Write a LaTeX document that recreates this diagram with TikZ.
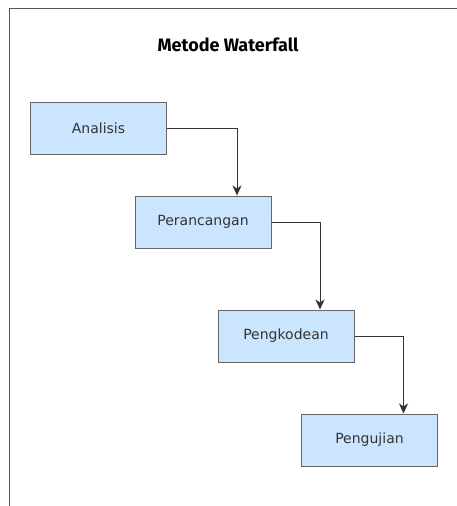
\documentclass[tikz,border=0pt]{standalone}
\usepackage{fontspec}
\setmainfont{DejaVu Sans}
\newfontfamily\titlefont{Fira Sans}
\usetikzlibrary{arrows.meta}
\definecolor{boxfill}{HTML}{CCE5FF}
\definecolor{boxline}{HTML}{666666}
\definecolor{boxtext}{HTML}{333333}
\definecolor{frameline}{HTML}{555555}
\begin{document}
\begin{tikzpicture}[x=1pt,y=-1pt,
  stepbox/.style={draw=boxline,fill=boxfill,line width=1pt,minimum width=136pt,minimum height=52pt,
    inner sep=0pt,text=boxtext,font=\fontsize{14}{16}\selectfont},
  link/.style={draw=black!80,line width=1pt,-{Stealth[length=10pt,width=9pt,inset=3pt]}}]
\useasboundingbox (0,0) rectangle (457,506);
\draw[frameline,line width=1.6pt] (9.5,520) -- (9.5,8.5) -- (470,8.5);
\node[font=\titlefont\bfseries\fontsize{18}{20}\selectfont] (title) at (228,45) {Metode Waterfall};
\node[stepbox] (a) at (98.5,128) {Analisis};
\node[stepbox] (b) at (203,222) {Perancangan};
\node[stepbox] (c) at (286,336) {Pengkodean};
\node[stepbox] (d) at (369.5,440) {Pengujian};
\draw[link] (a.east) -| ([xshift=34pt]b.north);
\draw[link] (b.east) -| ([xshift=34pt]c.north);
\draw[link] (c.east) -| ([xshift=34pt]d.north);
\end{tikzpicture}
\end{document}
